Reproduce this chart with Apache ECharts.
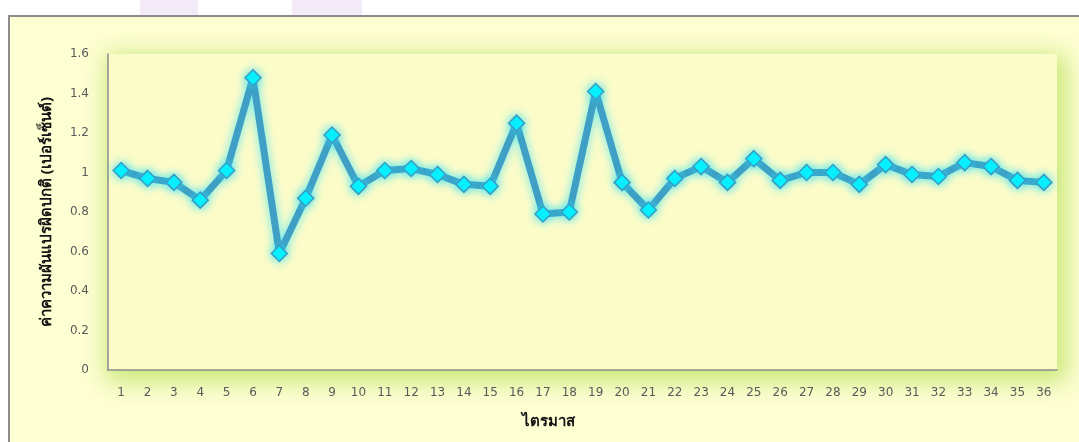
<!DOCTYPE html>
<html>
<head>
<meta charset="utf-8">
<script src="https://cdn.jsdelivr.net/npm/echarts@6/dist/echarts.min.js"></script>
<style>
  html, body { margin: 0; padding: 0; background: #ffffff; overflow: hidden; width: 1079px; height: 442px; }
  #panel { position: absolute; left: 8px; top: 15px; width: 1200px; height: 600px; background: #fefed3; }
  #edgeTop { position: absolute; left: 8px; top: 15px; width: 1200px; height: 2px; background: #8c8c8c; }
  #edgeLeft { position: absolute; left: 8px; top: 15px; width: 2px; height: 600px; background: #8c8c8c; }
  .mark { position: absolute; top: 0; height: 15px; background: #f3ebf7; }
  /* soft green halo behind the plotting area */
  #halo {
    position: absolute; left: 108px; top: 54px; width: 949px; height: 316px;
    background: #fcfcc9;
    box-shadow: 4px 6px 22px 5px rgba(196,230,112,0.95);
  }
  #chart { position: absolute; left: 0; top: 0; width: 1079px; height: 442px; }
</style>
</head>
<body>
<div class="mark" style="left:140px;width:58px"></div>
<div class="mark" style="left:292px;width:70px"></div>
<div id="panel"></div>
<div id="edgeTop"></div>
<div id="edgeLeft"></div>
<div id="halo"></div>
<div id="chart"></div>
<script>
// Quarters 1..36
const quarters = ['1','2','3','4','5','6','7','8','9','10','11','12','13','14','15','16','17','18',
                  '19','20','21','22','23','24','25','26','27','28','29','30','31','32','33','34','35','36'];
// Abnormal variation value (percent) per quarter
const variation = [1.01, 0.97, 0.95, 0.86, 1.01, 1.48, 0.59, 0.87, 1.19, 0.93, 1.01, 1.02,
                   0.99, 0.94, 0.93, 1.25, 0.79, 0.80, 1.41, 0.95, 0.81, 0.97, 1.03, 0.95,
                   1.07, 0.96, 1.00, 1.00, 0.94, 1.04, 0.99, 0.98, 1.05, 1.03, 0.96, 0.95];
const yTicks = { min: 0, max: 1.6, step: 0.2 };

const chart = echarts.init(document.getElementById('chart'), null, { renderer: 'canvas' });
chart.setOption({
  backgroundColor: 'transparent',
  animation: false,
  grid: {
    show: true,
    left: 108, right: 22, top: 54, bottom: 72,
    backgroundColor: '#fcfcc9',
    borderWidth: 0
  },
  xAxis: {
    type: 'category',
    data: quarters,
    boundaryGap: true,
    name: 'ไตรมาส',
    nameLocation: 'middle',
    nameGap: 44,
    nameTextStyle: {
      color: '#111', fontSize: 15, fontWeight: 'bold',
      fontFamily: 'Noto Sans, DejaVu Sans, sans-serif',
      padding: [0, 68, 0, 0]
    },
    axisLine: { show: true, lineStyle: { color: '#8c8c8c', width: 1.5 } },
    axisTick: { show: false },
    axisLabel: { color: '#5a5a5a', fontSize: 12, margin: 17, fontFamily: 'DejaVu Sans, sans-serif' },
    splitLine: { show: false }
  },
  yAxis: {
    type: 'value',
    min: yTicks.min, max: yTicks.max, interval: yTicks.step,
    name: 'ค่าความผันแปรผิดปกติ (เปอร์เซ็นต์)',
    nameLocation: 'middle',
    nameGap: 54,
    nameRotate: 90,
    nameTextStyle: { color: '#111', fontSize: 15, fontWeight: 'bold', fontFamily: 'Noto Sans, DejaVu Sans, sans-serif' },
    axisLine: { show: true, lineStyle: { color: '#8c8c8c', width: 1.5 } },
    axisTick: { show: false },
    axisLabel: { color: '#5a5a5a', fontSize: 12, margin: 19, fontFamily: 'DejaVu Sans, sans-serif' },
    splitLine: { show: false }
  },
  series: [{
    type: 'line',
    data: variation,
    symbol: 'diamond',
    symbolSize: 16,
    lineStyle: {
      color: '#3f9fc4', width: 7,
      shadowColor: 'rgba(40,225,255,0.75)', shadowBlur: 10
    },
    itemStyle: {
      color: '#00f2ff', borderColor: '#3a9cc0', borderWidth: 1.5,
      shadowColor: 'rgba(40,225,255,0.8)', shadowBlur: 10
    }
  }]
});
</script>
</body>
</html>
